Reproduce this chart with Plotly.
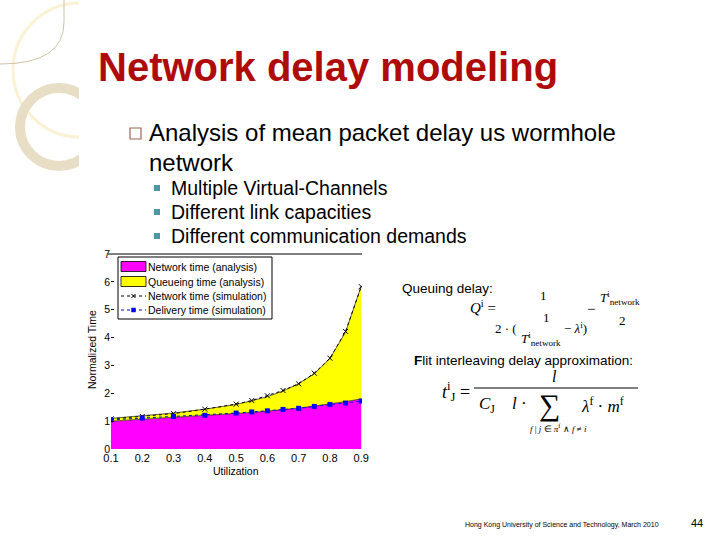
import plotly.graph_objects as go

W, H = 720, 540

# ---------------- data ----------------
utilization = [0.1, 0.2, 0.3, 0.4, 0.5, 0.55, 0.6, 0.65, 0.7, 0.75, 0.8, 0.85, 0.9]
network_analysis = [1.0, 1.07, 1.13, 1.19, 1.27, 1.31, 1.36, 1.41, 1.47, 1.54, 1.61, 1.70, 1.80]
queueing_analysis = [0.10, 0.12, 0.16, 0.24, 0.33, 0.42, 0.52, 0.67, 0.88, 1.16, 1.64, 2.50, 4.05]
network_sim = [1.08, 1.17, 1.27, 1.43, 1.61, 1.74, 1.91, 2.10, 2.34, 2.72, 3.26, 4.22, 5.83]
delivery_sim = [1.05, 1.11, 1.17, 1.21, 1.29, 1.33, 1.37, 1.42, 1.46, 1.53, 1.60, 1.65, 1.72]
x_ticks = [0.1, 0.2, 0.3, 0.4, 0.5, 0.6, 0.7, 0.8, 0.9]
y_ticks = [0, 1, 2, 3, 4, 5, 6, 7]
series_names = ["Network time (analysis)", "Queueing time (analysis)",
                "Network time (simulation)", "Delivery time (simulation)"]

SANS = "Liberation Sans, Arial, sans-serif"
SERIF = "Liberation Serif, Times New Roman, serif"


def px(x):
    return x / W


def py(y):
    return 1 - y / H


fig = go.Figure()

fig.add_trace(go.Scatter(
    x=utilization, y=network_analysis, stackgroup="a", name=series_names[0],
    mode="lines", line=dict(color="black", width=0.6), fillcolor="#FF00FF"))
fig.add_trace(go.Scatter(
    x=utilization, y=queueing_analysis, stackgroup="a", name=series_names[1],
    mode="lines", line=dict(color="black", width=0.6), fillcolor="#FFFF00"))
fig.add_trace(go.Scatter(
    x=utilization, y=network_sim, name=series_names[2],
    mode="lines+markers", line=dict(color="black", width=1, dash="dot"),
    marker=dict(symbol="x-thin", size=5, color="black", line=dict(width=1, color="black"))))
fig.add_trace(go.Scatter(
    x=utilization, y=delivery_sim, name=series_names[3],
    mode="lines+markers", line=dict(color="#0000FF", width=1, dash="dot"),
    marker=dict(symbol="square", size=5, color="#0000FF")))

# plot frame in pixels: left 111, right 362, top 254, bottom 449
x0d, x1d = px(111), px(362)
y0d, y1d = py(449), py(254)

fig.update_layout(
    width=W, height=H,
    margin=dict(l=0, r=0, t=0, b=0),
    paper_bgcolor="white", plot_bgcolor="white",
    showlegend=False,
    xaxis=dict(domain=[x0d, x1d], range=[0.1, 0.9025], tickvals=x_ticks,
               ticktext=[f"{v:.1f}" for v in x_ticks], automargin=False,
               showgrid=False, zeroline=False, showline=False, ticks="",
               ticklabelstandoff=1,
               tickfont=dict(family=SANS, size=11, color="black")),
    yaxis=dict(domain=[y0d, y1d], range=[0, 7], tickvals=y_ticks, automargin=False,
               showgrid=False, zeroline=False, showline=False,
               ticks="inside", ticklen=3, tickcolor="black",
               tickfont=dict(family=SANS, size=10.5, color="black")),
)

shapes = []
# decorative top-left elements
shapes.append(dict(type="circle", xref="paper", yref="paper",
                   x0=px(13), x1=px(147), y0=py(3), y1=py(137),
                   line=dict(color="#FBF2D6", width=3), layer="above"))
shapes.append(dict(type="circle", xref="paper", yref="paper",
                   x0=px(59 - 39), x1=px(59 + 39), y0=py(127 - 39), y1=py(127 + 39),
                   line=dict(color="#E8DEC5", width=10), layer="above"))
shapes.append(dict(type="rect", xref="paper", yref="paper",
                   x0=px(79), x1=px(160), y0=py(0), y1=py(180),
                   fillcolor="white", line=dict(width=0), layer="above"))
shapes.append(dict(type="path", xref="paper", yref="paper",
                   path=f"M {px(64)},{py(0)} L {px(64)},{py(22)} Q {px(64)},{py(64)} {px(0)},{py(64)}",
                   line=dict(color="#CFC3A8", width=1), layer="above"))
# main bullet hollow square
shapes.append(dict(type="rect", xref="paper", yref="paper",
                   x0=px(130), x1=px(141), y0=py(139), y1=py(128),
                   line=dict(color="#A0645A", width=1.2), fillcolor="white", layer="above"))
# sub bullets
for yy in (188, 212, 236):
    shapes.append(dict(type="rect", xref="paper", yref="paper",
                       x0=px(154), x1=px(160), y0=py(yy + 3), y1=py(yy - 3),
                       line=dict(width=0), fillcolor="#4E98A6", layer="above"))
# top frame line of the chart
shapes.append(dict(type="line", xref="paper", yref="paper",
                   x0=px(108), x1=px(362), y0=py(254), y1=py(254),
                   line=dict(color="black", width=1), layer="above"))

# legend box (drawn manually to match compact MATLAB-style legend)
LX0, LX1, LY0, LY1 = 118, 272, 257, 319
shapes.append(dict(type="rect", xref="paper", yref="paper",
                   x0=px(LX0), x1=px(LX1), y0=py(LY1), y1=py(LY0),
                   line=dict(color="black", width=1), fillcolor="white", layer="above"))
rows = [266.5, 281.5, 296, 310]
for yy, col in zip(rows[:2], ["#FF00FF", "#FFFF00"]):
    shapes.append(dict(type="rect", xref="paper", yref="paper",
                       x0=px(121), x1=px(146), y0=py(yy + 5), y1=py(yy - 5),
                       line=dict(color="black", width=0.8), fillcolor=col, layer="above"))
for yy, col in zip(rows[2:], ["black", "#0000FF"]):
    shapes.append(dict(type="line", xref="paper", yref="paper",
                       x0=px(121), x1=px(146), y0=py(yy), y1=py(yy),
                       line=dict(color=col, width=1, dash="dot"), layer="above"))
# legend markers
shapes.append(dict(type="line", xref="paper", yref="paper",
                   x0=px(131.5), x1=px(135.5), y0=py(rows[2] - 2), y1=py(rows[2] + 2),
                   line=dict(color="black", width=1), layer="above"))
shapes.append(dict(type="line", xref="paper", yref="paper",
                   x0=px(131.5), x1=px(135.5), y0=py(rows[2] + 2), y1=py(rows[2] - 2),
                   line=dict(color="black", width=1), layer="above"))
shapes.append(dict(type="rect", xref="paper", yref="paper",
                   x0=px(131.5), x1=px(135.5), y0=py(rows[3] + 2), y1=py(rows[3] - 2),
                   line=dict(color="#0000FF", width=0.5), fillcolor="#0000FF", layer="above"))

# equation fraction bar
shapes.append(dict(type="line", xref="paper", yref="paper",
                   x0=px(474), x1=px(638), y0=py(388), y1=py(388),
                   line=dict(color="black", width=1), layer="above"))
fig.update_layout(shapes=shapes)

ann = []


def text(x, y, s, size, color="black", family=SANS, xanchor="left", yanchor="middle", angle=0):
    ann.append(dict(x=px(x), y=py(y), xref="paper", yref="paper", text=s, showarrow=False,
                    xanchor=xanchor, yanchor=yanchor, textangle=angle, borderpad=0,
                    font=dict(family=family, size=size, color=color)))


text(97, 67, "<b>Network delay modeling</b>", 40, color="#B00B0B")
text(148, 133, "Analysis of mean packet delay us wormhole", 24)
text(148, 162, "network", 24)
text(170, 188, "Multiple Virtual-Channels", 19.5)
text(170, 212, "Different link capacities", 19.5)
text(170, 236, "Different communication demands", 19.5)

# axis titles
text(236, 471, "Utilization", 10.5, xanchor="center")
text(92, 350, "Normalized Time", 10.5, xanchor="center", angle=-90)

# legend texts
for yy, name in zip(rows, series_names):
    text(147, yy, name, 10.5)

# equations
text(401, 288, "Queuing delay:", 13.5)
text(469, 307, "<i>Q</i><sup>i</sup> =", 15, family=SERIF)
text(543, 295, "1", 13, family=SERIF, xanchor="center")
text(586, 309, "−", 15, family=SERIF)
text(620, 298, "<i>T</i><sup>i</sup><sub>network</sub>", 13, family=SERIF, xanchor="center")
text(622, 320, "2", 13, family=SERIF, xanchor="center")
text(494, 328, "2 · (", 13, family=SERIF)
text(546, 317, "1", 13, family=SERIF, xanchor="center")
text(541, 339, "<i>T</i><sup>i</sup><sub>network</sub>", 13, family=SERIF, xanchor="center")
text(563, 328, "− <i>λ</i><sup>i</sup>)", 13, family=SERIF)

text(413, 360, "<b>F</b>lit interleaving delay approximation:", 13.5)
text(441, 391, "<i>t</i><sup>i</sup><sub>J</sub> =", 18, family=SERIF)
text(554, 376, "<i>l</i>", 16, family=SERIF, xanchor="center")
text(478, 405, "<i>C</i><sub>J</sub>    <i>l</i> ·", 17, family=SERIF)
text(549, 405, "∑", 30, family=SERIF, xanchor="center")
text(580, 405, "<i>λ</i><sup>f</sup> · <i>m</i><sup>f</sup>", 17, family=SERIF)
text(558, 428, "<i>f</i> | <i>j</i> ∈ <i>π</i><sup>f</sup> ∧ <i>f</i> ≠ <i>i</i>", 9, family=SERIF, xanchor="center")

# footer
text(562, 525, "Hong Kong University of Science and Technology, March 2010", 7, xanchor="center")
text(697, 523, "44", 11, xanchor="center")

fig.update_layout(annotations=ann)

fig.write_html("out.html")
